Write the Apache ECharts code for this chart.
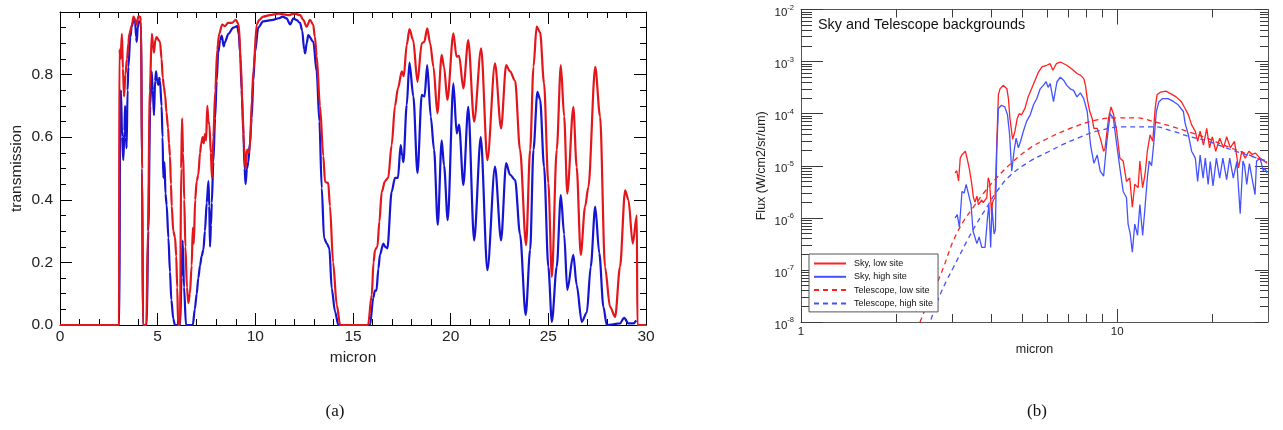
<!DOCTYPE html>
<html>
<head>
<meta charset="utf-8">
<script src="https://cdn.jsdelivr.net/npm/echarts@6/dist/echarts.min.js"></script>
<style>
html,body{margin:0;padding:0;background:#fff;}
#c{width:1283px;height:430px;}
</style>
</head>
<body>
<div id="c"></div>
<script>
// ---------- Panel (a): atmospheric transmission vs wavelength ----------
const transRed = [[0,0],[3.02,0],[3.04,0.88],[3.1,0.85],[3.17,0.93],[3.22,0.82],[3.28,0.73],[3.35,0.8],[3.43,0.85],[3.5,0.9],[3.55,0.93],[3.69,0.96],[3.76,0.985],[3.85,0.975],[3.94,0.96],[4.0,0.985],[4.1,0.985],[4.15,0.97],[4.2,0.5],[4.25,0],[4.42,0],[4.5,0.3],[4.6,0.75],[4.7,0.93],[4.76,0.9],[4.81,0.87],[4.88,0.91],[4.95,0.92],[5.05,0.91],[5.12,0.905],[5.2,0.85],[5.26,0.79],[5.32,0.76],[5.38,0.735],[5.45,0.68],[5.53,0.63],[5.58,0.58],[5.63,0.54],[5.68,0.45],[5.72,0.38],[5.8,0.3],[5.89,0.28],[5.95,0.22],[6.0,0.12],[6.05,0],[6.15,0],[6.2,0.5],[6.25,0.66],[6.3,0.55],[6.36,0.4],[6.42,0.25],[6.5,0.12],[6.57,0.07],[6.65,0.1],[6.74,0.19],[6.8,0.31],[6.85,0.26],[6.92,0.4],[7.0,0.46],[7.08,0.48],[7.17,0.55],[7.23,0.58],[7.3,0.6],[7.36,0.58],[7.42,0.61],[7.48,0.59],[7.54,0.7],[7.6,0.65],[7.65,0.64],[7.72,0.55],[7.78,0.47],[7.85,0.6],[7.95,0.75],[8.05,0.88],[8.15,0.93],[8.3,0.96],[8.45,0.955],[8.6,0.965],[8.8,0.965],[9.0,0.975],[9.15,0.96],[9.25,0.85],[9.35,0.68],[9.42,0.57],[9.5,0.5],[9.58,0.56],[9.65,0.55],[9.73,0.57],[9.82,0.72],[9.9,0.81],[10.07,0.96],[10.2,0.975],[10.4,0.985],[10.75,0.99],[11.2,0.995],[11.7,0.99],[12.0,0.995],[12.3,0.99],[12.45,0.975],[12.63,0.953],[12.8,0.975],[12.96,0.96],[13.05,0.92],[13.14,0.86],[13.31,0.7],[13.48,0.54],[13.57,0.457],[13.73,0.454],[13.82,0.38],[13.98,0.2],[14.17,0.064],[14.34,0],[15.77,0],[15.96,0.096],[16.05,0.2],[16.13,0.24],[16.25,0.25],[16.35,0.33],[16.47,0.425],[16.64,0.46],[16.8,0.47],[16.98,0.575],[17.15,0.7],[17.3,0.756],[17.5,0.81],[17.6,0.795],[17.75,0.895],[17.89,0.945],[18.08,0.91],[18.3,0.777],[18.52,0.9],[18.65,0.905],[18.8,0.948],[18.95,0.9],[19.12,0.825],[19.32,0.676],[19.54,0.863],[19.66,0.825],[19.83,0.719],[20.14,0.932],[20.3,0.857],[20.43,0.86],[20.65,0.756],[20.9,0.91],[21.2,0.65],[21.56,0.884],[21.88,0.527],[22.27,0.836],[22.58,0.628],[22.84,0.83],[23.04,0.81],[23.3,0.78],[23.55,0.56],[23.86,0.255],[24.07,0.56],[24.24,0.825],[24.4,0.953],[24.58,0.935],[24.78,0.772],[25.0,0.453],[25.18,0.154],[25.43,0.56],[25.64,0.83],[25.81,0.666],[25.97,0.42],[26.28,0.697],[26.45,0.505],[26.66,0.224],[26.88,0.378],[27.05,0.441],[27.4,0.825],[27.65,0.666],[27.9,0.186],[28.16,0.058],[28.42,0.026],[28.67,0.186],[28.93,0.43],[29.1,0.4],[29.32,0.26],[29.53,0.35],[29.56,0],[30,0]];

const transBlue = [[0,0],[3.04,0],[3.08,0.7],[3.12,0.75],[3.18,0.6],[3.24,0.527],[3.3,0.62],[3.33,0.7],[3.38,0.6],[3.41,0.565],[3.46,0.75],[3.5,0.825],[3.6,0.92],[3.67,0.953],[3.75,0.97],[3.84,0.975],[3.9,0.92],[3.93,0.905],[3.98,0.95],[4.05,0.97],[4.15,0.965],[4.2,0.5],[4.25,0],[4.44,0],[4.52,0.3],[4.62,0.7],[4.69,0.81],[4.75,0.75],[4.81,0.67],[4.87,0.78],[4.92,0.81],[4.97,0.78],[5.03,0.767],[5.08,0.79],[5.12,0.78],[5.2,0.7],[5.25,0.6],[5.29,0.47],[5.35,0.52],[5.4,0.42],[5.46,0.383],[5.55,0.278],[5.63,0.17],[5.7,0.08],[5.8,0.02],[5.88,0],[6.15,0],[6.22,0.15],[6.28,0.27],[6.35,0.12],[6.45,0],[6.8,0],[6.9,0.05],[7.0,0.1],[7.08,0.15],[7.17,0.19],[7.25,0.22],[7.34,0.24],[7.42,0.3],[7.51,0.39],[7.6,0.46],[7.64,0.38],[7.68,0.25],[7.73,0.32],[7.77,0.39],[7.85,0.52],[7.94,0.66],[8.02,0.78],[8.1,0.87],[8.2,0.91],[8.28,0.925],[8.38,0.89],[8.45,0.905],[8.62,0.93],[8.87,0.95],[9.08,0.955],[9.15,0.93],[9.22,0.87],[9.3,0.75],[9.39,0.61],[9.45,0.5],[9.5,0.45],[9.57,0.5],[9.64,0.52],[9.72,0.58],[9.81,0.66],[9.9,0.78],[9.98,0.87],[10.15,0.95],[10.4,0.97],[10.9,0.975],[11.2,0.98],[11.4,0.985],[11.6,0.98],[11.78,0.96],[11.95,0.98],[12.1,0.975],[12.29,0.965],[12.4,0.94],[12.5,0.88],[12.55,0.868],[12.63,0.9],[12.71,0.926],[12.97,0.905],[13.14,0.81],[13.28,0.65],[13.4,0.437],[13.52,0.277],[13.66,0.26],[13.79,0.245],[13.91,0.117],[14.08,0.043],[14.25,0],[15.87,0],[16.04,0.087],[16.12,0.11],[16.2,0.11],[16.3,0.18],[16.38,0.224],[16.55,0.26],[16.65,0.25],[16.76,0.245],[16.98,0.426],[17.15,0.47],[17.3,0.47],[17.44,0.575],[17.52,0.54],[17.58,0.52],[17.75,0.703],[17.89,0.838],[18.09,0.73],[18.3,0.485],[18.52,0.735],[18.66,0.73],[18.8,0.83],[18.98,0.666],[19.15,0.56],[19.34,0.32],[19.54,0.59],[19.66,0.51],[19.85,0.335],[20.14,0.772],[20.31,0.612],[20.43,0.64],[20.65,0.447],[20.9,0.697],[21.2,0.27],[21.54,0.6],[21.88,0.175],[22.27,0.506],[22.58,0.27],[22.84,0.517],[23.04,0.48],[23.3,0.463],[23.55,0.29],[23.84,0.032],[24.07,0.24],[24.24,0.56],[24.44,0.745],[24.58,0.72],[24.78,0.506],[25.0,0.186],[25.18,0.01],[25.43,0.186],[25.64,0.415],[25.81,0.29],[25.97,0.112],[26.28,0.224],[26.45,0.128],[26.71,0.01],[26.97,0.04],[27.17,0.186],[27.4,0.378],[27.61,0.229],[27.82,0.058],[27.99,0],[28.67,0.005],[28.88,0.023],[29.1,0.005],[29.35,0.005],[29.5,0.015]];

// ---------- Panel (b): sky and telescope backgrounds ----------
const skyLow = [[3.07,7.3e-6],[3.11,8.0e-6],[3.15,5.1e-6],[3.19,1.4e-5],[3.23,1.63e-5],[3.27,1.5e-5],[3.31,1.9e-5],[3.35,1.41e-5],[3.41,8.5e-6],[3.47,4.4e-6],[3.51,2.45e-6],[3.55,2.0e-6],[3.6,2.6e-6],[3.64,1.8e-6],[3.68,1.8e-6],[3.73,2.2e-6],[3.77,1.95e-6],[3.82,2.1e-6],[3.87,2.45e-6],[3.91,5.9e-6],[3.95,4.8e-6],[3.98,4.4e-6],[4.01,1.1e-6],[4.03,1.9e-6],[4.06,2.2e-6],[4.11,2.45e-6],[4.16,2.5e-5],[4.21,2.3e-4],[4.26,3.0e-4],[4.36,3.5e-4],[4.48,3.0e-4],[4.53,1.95e-4],[4.58,8.1e-5],[4.67,3.2e-5],[4.75,4.6e-5],[4.83,8.1e-5],[4.9,1.0e-4],[4.98,9.5e-5],[5.11,1.26e-4],[5.23,2.1e-4],[5.36,3.0e-4],[5.5,4.4e-4],[5.64,6.3e-4],[5.78,7.9e-4],[5.99,8.5e-4],[6.14,9.1e-4],[6.26,6.8e-4],[6.42,9.1e-4],[6.61,9.8e-4],[6.93,8.5e-4],[7.19,7.2e-4],[7.46,5.9e-4],[7.65,5.5e-4],[7.84,4.7e-4],[7.94,3.5e-4],[8.04,1.95e-4],[8.19,1.1e-4],[8.34,8.1e-5],[8.44,5.2e-5],[8.65,5.2e-5],[8.84,3.4e-5],[9.06,1.9e-5],[9.15,2.1e-5],[9.39,8.1e-5],[9.56,1.35e-4],[9.73,1.0e-4],[9.97,4.6e-5],[10.2,1.4e-5],[10.45,1.23e-5],[10.7,5.0e-6],[10.96,5.8e-6],[11.17,1.6e-6],[11.37,4.4e-6],[11.65,3.8e-6],[11.8,1.23e-5],[12.04,3.8e-6],[12.25,6.8e-6],[12.46,1.9e-5],[12.71,3.9e-5],[12.96,2.95e-5],[13.19,1.26e-4],[13.37,2.3e-4],[13.72,2.6e-4],[14.25,2.7e-4],[14.8,2.4e-4],[15.37,2.1e-4],[15.96,1.7e-4],[16.4,1.26e-4],[16.8,9.5e-5],[17.2,6.1e-5],[17.67,4.6e-5],[17.97,2.95e-5],[18.3,4.6e-5],[18.75,2.5e-5],[19.2,5.2e-5],[19.6,2.2e-5],[20.0,3.6e-5],[20.5,1.9e-5],[21.1,3.4e-5],[21.7,2.2e-5],[22.2,3.6e-5],[22.8,2.2e-5],[23.5,2.95e-5],[24.2,9.1e-6],[24.8,1.9e-5],[25.4,1.4e-5],[26.1,1.9e-5],[26.7,1.66e-5],[27.4,1.75e-5],[28.3,1.4e-5],[29.8,1.12e-5]];

const skyHigh = [[3.07,1.0e-6],[3.12,1.15e-6],[3.17,6.6e-7],[3.23,3.2e-6],[3.28,3.0e-6],[3.33,4.4e-6],[3.39,2.8e-6],[3.45,1.8e-6],[3.5,5.6e-7],[3.55,5.2e-7],[3.6,3.2e-7],[3.66,4.3e-7],[3.73,2.7e-7],[3.82,2.7e-7],[3.89,1.0e-6],[3.93,1.8e-6],[3.98,2.7e-7],[4.02,1.6e-6],[4.08,4.9e-7],[4.12,5.9e-7],[4.16,1.9e-5],[4.21,1.26e-4],[4.31,1.45e-4],[4.41,1.35e-4],[4.5,9.5e-5],[4.57,3.9e-5],[4.64,7.9e-6],[4.72,1.9e-5],[4.79,3.4e-5],[4.87,2.2e-5],[4.95,2.95e-5],[5.05,4.6e-5],[5.17,7.1e-5],[5.31,9.5e-5],[5.44,1.48e-4],[5.57,1.95e-4],[5.71,3.0e-4],[5.84,3.5e-4],[5.96,4.1e-4],[6.05,3.2e-4],[6.14,3.8e-4],[6.29,1.7e-4],[6.45,4.1e-4],[6.61,5.0e-4],[6.77,4.4e-4],[6.93,3.5e-4],[7.1,3.0e-4],[7.28,2.8e-4],[7.46,2.1e-4],[7.65,2.5e-4],[7.84,1.95e-4],[8.04,1.1e-4],[8.24,2.5e-5],[8.44,1.12e-5],[8.65,1.6e-5],[8.84,7.9e-6],[9.06,6.3e-6],[9.28,2.95e-5],[9.5,1.0e-4],[9.73,8.1e-5],[9.97,2.5e-5],[10.2,9.1e-6],[10.45,3.2e-6],[10.7,2.45e-6],[10.83,7.6e-7],[11.0,4.9e-7],[11.17,2.2e-7],[11.37,7.6e-7],[11.6,4.6e-7],[11.8,1.8e-6],[12.04,4.6e-7],[12.25,1.6e-6],[12.46,5.9e-6],[12.63,1.23e-5],[12.85,1.0e-5],[13.1,3.4e-5],[13.3,1.1e-4],[13.56,1.7e-4],[13.93,1.95e-4],[14.5,1.95e-4],[15.1,1.7e-4],[15.6,1.48e-4],[16.2,1.1e-4],[16.4,6.6e-5],[16.8,3.9e-5],[17.2,1.9e-5],[17.67,1.4e-5],[17.97,5.0e-6],[18.3,1.6e-5],[18.7,5.8e-6],[19.0,1.4e-5],[19.4,4.4e-6],[19.7,1.2e-5],[20.1,4.1e-6],[20.6,1.4e-5],[21.1,5.8e-6],[21.6,1.4e-5],[22.2,5.4e-6],[22.7,1.4e-5],[23.3,5.8e-6],[23.9,1.2e-5],[24.5,1.2e-6],[25.0,1.23e-5],[25.3,1.0e-5],[25.7,4.4e-6],[26.2,1.1e-5],[26.7,5.8e-6],[27.3,2.8e-6],[27.6,1.23e-5],[28.3,1.4e-5],[29.0,7.9e-6],[29.3,9.0e-6],[29.8,7.3e-6]];

const telLow = [[2.2,3.3e-9],[2.38,1.0e-8],[2.53,2.5e-8],[2.69,5.5e-8],[2.82,1.1e-7],[3.03,3.6e-7],[3.27,8.7e-7],[3.51,1.6e-6],[3.8,3.1e-6],[4.16,5.9e-6],[4.7,1.23e-5],[5.31,2.2e-5],[6.0,3.3e-5],[7.1,5.2e-5],[8.63,7.6e-5],[10.0,8.3e-5],[11.5,8.3e-5],[13.0,7.1e-5],[15.0,5.6e-5],[17.0,4.4e-5],[19.0,3.5e-5],[21.7,2.5e-5],[25.0,1.8e-5],[29.8,1.17e-5]];

const telHigh = [[2.35,2.5e-9],[2.56,1.0e-8],[2.72,2.8e-8],[2.89,6.3e-8],[3.03,1.1e-7],[3.35,3.6e-7],[3.6,7.9e-7],[3.87,1.6e-6],[4.16,3.2e-6],[4.6,6.6e-6],[5.31,1.23e-5],[6.0,1.8e-5],[6.77,2.6e-5],[7.6,3.5e-5],[8.63,4.6e-5],[10.45,5.6e-5],[13.05,5.6e-5],[15.0,4.6e-5],[17.0,3.6e-5],[19.2,3.0e-5],[21.7,2.3e-5],[25.0,1.7e-5],[29.8,1.23e-5]];

// tick values (log axes): decade exponents and in-decade multipliers
const yExponents = [-8, -7, -6, -5, -4, -3, -2];
const xExponents = [0, 1];
const decadeMultipliers = [2, 3, 4, 5, 6, 7, 8, 9];
const xMax = 30;

const FONT = 'Liberation Sans';
const yMinor = [];
for (let d = -8; d < -2; d++) for (const k of decadeMultipliers) yMinor.push(d + Math.log10(k));
const xMinor = [];
for (const d of [0, 1]) for (const k of decadeMultipliers) { const v = d + Math.log10(k); if (v < Math.log10(xMax)) xMinor.push(v); }

const chart = echarts.init(document.getElementById('c'), null, {renderer: 'canvas'});

const blk = '#000';
const leftTick = {inside: true, length: 12, lineStyle: {color: blk, width: 1}};
const leftMinor = {show: true, length: 6, lineStyle: {color: blk, width: 1}};
const rc = '#3a3a3a';

function tickOnlyAxis(base, values, len, showLine) {
  return Object.assign({
    type: 'value', gridIndex: 1,
    axisLine: {show: !!showLine, onZero: false, lineStyle: {color: '#555', width: 1}},
    axisTick: {show: true, inside: true, length: len, customValues: values, lineStyle: {color: rc, width: 1}},
    axisLabel: {show: false},
    splitLine: {show: false}
  }, base);
}

const option = {
  animation: false,
  textStyle: {fontFamily: FONT},
  title: {
    text: 'Sky and Telescope backgrounds', left: 818, top: 18, padding: 0,
    textStyle: {fontSize: 14.4, fontWeight: 'normal', color: '#111', fontFamily: FONT}
  },
  legend: {
    data: ['Sky, low site', 'Sky, high site', 'Telescope, low site', 'Telescope, high site'],
    orient: 'vertical', left: 809, top: 254,
    itemWidth: 32, itemHeight: 10, itemGap: 4.3,
    padding: [5, 5, 4, 4],
    backgroundColor: '#fff', borderColor: '#555', borderWidth: 1,
    selectedMode: false,
    itemStyle: {opacity: 0},
    textStyle: {fontSize: 9, color: '#111', fontFamily: FONT, padding: [0, 0, 0, 3]}
  },
  grid: [
    {left: 60, top: 12, width: 586, height: 313},
    {left: 801, top: 7, width: 467, height: 315}
  ],
  xAxis: [
    {gridIndex: 0, type: 'value', min: 0, max: 30, interval: 5, position: 'bottom',
     axisLine: {onZero: false, lineStyle: {color: blk, width: 1}},
     axisTick: leftTick, minorTick: Object.assign({splitNumber: 5}, leftMinor),
     axisLabel: {fontSize: 15.5, color: '#222', margin: 4, fontFamily: FONT},
     splitLine: {show: false}, minorSplitLine: {show: false},
     name: 'micron', nameLocation: 'middle', nameGap: 15,
     nameTextStyle: {fontSize: 15.5, color: '#222', fontFamily: FONT}},
    {gridIndex: 0, type: 'value', min: 0, max: 30, interval: 5, position: 'top',
     axisLine: {onZero: false, lineStyle: {color: blk, width: 1}},
     axisTick: leftTick, minorTick: Object.assign({splitNumber: 5}, leftMinor),
     axisLabel: {show: false}, splitLine: {show: false}},
    {gridIndex: 1, type: 'log', logBase: 10, min: 1, max: xMax, show: false},
    tickOnlyAxis({position: 'bottom', min: 0, max: Math.log10(xMax),
      axisLabel: {show: true, customValues: xExponents, formatter: v => String(Math.round(Math.pow(10, v))),
        fontSize: 11.5, color: '#222', margin: 4, fontFamily: FONT},
      name: 'micron', nameLocation: 'middle', nameGap: 16,
      nameTextStyle: {fontSize: 12.5, color: '#222', fontFamily: FONT}}, xExponents, 13, true),
    tickOnlyAxis({position: 'bottom', min: 0, max: Math.log10(xMax)}, xMinor, 8, false),
    tickOnlyAxis({position: 'top', min: 0, max: Math.log10(xMax)}, xExponents, 15, true),
    tickOnlyAxis({position: 'top', min: 0, max: Math.log10(xMax)}, xMinor, 8, false)
  ],
  yAxis: [
    {gridIndex: 0, type: 'value', min: 0, max: 1, interval: 0.2, position: 'left',
     axisLine: {onZero: false, lineStyle: {color: blk, width: 1}},
     axisTick: leftTick, minorTick: Object.assign({splitNumber: 4}, leftMinor),
     axisLabel: {fontSize: 15.5, color: '#222', margin: 7, fontFamily: FONT,
       formatter: v => (v >= 0.999 ? '' : v.toFixed(1))},
     splitLine: {show: false}, minorSplitLine: {show: false},
     name: 'transmission', nameLocation: 'middle', nameGap: 35,
     nameTextStyle: {fontSize: 15.5, color: '#222', fontFamily: FONT}},
    {gridIndex: 0, type: 'value', min: 0, max: 1, interval: 0.2, position: 'right',
     axisLine: {onZero: false, lineStyle: {color: blk, width: 1}},
     axisTick: leftTick, minorTick: Object.assign({splitNumber: 4}, leftMinor),
     axisLabel: {show: false}, splitLine: {show: false}},
    {gridIndex: 1, type: 'log', logBase: 10, min: 1e-8, max: 1e-2, show: false},
    tickOnlyAxis({position: 'left', min: -8, max: -2,
      axisLabel: {show: true, customValues: yExponents, margin: 7,
        formatter: v => '{b|10}{s|' + Math.round(v) + '}',
        rich: {
          b: {fontSize: 11.5, lineHeight: 12, padding: [7, 0, 0, 0], color: '#222', fontFamily: FONT},
          s: {fontSize: 7.5, lineHeight: 8, verticalAlign: 'top', color: '#222', fontFamily: FONT}
        }},
      name: 'Flux (W/cm2/sr/um)', nameLocation: 'middle', nameGap: 33,
      nameTextStyle: {fontSize: 12.5, color: '#222', fontFamily: FONT}}, yExponents, 22, true),
    tickOnlyAxis({position: 'left', min: -8, max: -2}, yMinor, 11, false),
    tickOnlyAxis({position: 'right', min: -8, max: -2}, yExponents, 13, true),
    tickOnlyAxis({position: 'right', min: -8, max: -2}, yMinor, 8, false)
  ],
  graphic: [
    {type: 'text', x: 335, y: 412, style: {text: '(a)', fontSize: 17, fontFamily: 'Liberation Serif', fill: '#111', align: 'center', verticalAlign: 'middle'}},
    {type: 'text', x: 1037, y: 412, style: {text: '(b)', fontSize: 17, fontFamily: 'Liberation Serif', fill: '#111', align: 'center', verticalAlign: 'middle'}}
  ],
  series: [
    {name: 'transmission, blue', type: 'line', xAxisIndex: 0, yAxisIndex: 0, data: transBlue,
     showSymbol: false, symbol: 'none', smooth: 0.3, smoothMonotone: 'x',
     lineStyle: {color: '#1414d2', width: 2.2}, itemStyle: {color: '#1414d2'}},
    {name: 'transmission, red', type: 'line', xAxisIndex: 0, yAxisIndex: 0, data: transRed,
     showSymbol: false, symbol: 'none', smooth: 0.3, smoothMonotone: 'x',
     lineStyle: {color: '#e3161c', width: 2.2}, itemStyle: {color: '#e3161c'}},
    {name: 'Sky, low site', type: 'line', xAxisIndex: 2, yAxisIndex: 2, data: skyLow,
     showSymbol: false, symbol: 'none',
     lineStyle: {color: '#ff2020', width: 1.3}, itemStyle: {color: '#ff2020'}},
    {name: 'Sky, high site', type: 'line', xAxisIndex: 2, yAxisIndex: 2, data: skyHigh,
     showSymbol: false, symbol: 'none',
     lineStyle: {color: '#4452ff', width: 1.3}, itemStyle: {color: '#4452ff'}},
    {name: 'Telescope, low site', type: 'line', xAxisIndex: 2, yAxisIndex: 2, data: telLow,
     showSymbol: false, symbol: 'none', smooth: 0.4,
     lineStyle: {color: '#ff2020', width: 1.3, type: [5, 4]}, itemStyle: {color: '#ff2020'}},
    {name: 'Telescope, high site', type: 'line', xAxisIndex: 2, yAxisIndex: 2, data: telHigh,
     showSymbol: false, symbol: 'none', smooth: 0.4,
     lineStyle: {color: '#4452ff', width: 1.3, type: [5, 4]}, itemStyle: {color: '#4452ff'}}
  ]
};
chart.setOption(option);
</script>
</body>
</html>
